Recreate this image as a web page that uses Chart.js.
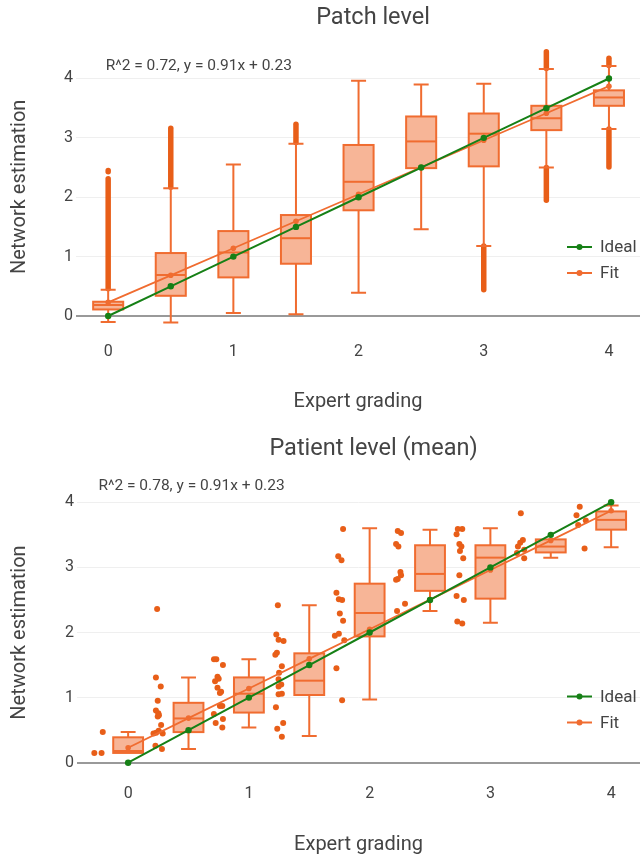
<!DOCTYPE html>
<html>
<head>
<meta charset="utf-8">
<script src="https://cdn.jsdelivr.net/npm/chart.js@4.4.0/dist/chart.umd.min.js"></script>
<style>
html, body { margin: 0; padding: 0; background: #fff; }
canvas { display: block; }
</style>
</head>
<body>
<canvas id="patchChart" width="644" height="430"></canvas>
<canvas id="patientChart" width="644" height="427"></canvas>
<script>
// Shared grading steps and reference lines
const grades = [0, 0.5, 1, 1.5, 2, 2.5, 3, 3.5, 4];
const idealValues = [0, 0.5, 1, 1.5, 2, 2.5, 3, 3.5, 4];
const fitValues = [0.23, 0.685, 1.14, 1.595, 2.05, 2.505, 2.96, 3.415, 3.87];
const axisTicks = [0, 1, 2, 3, 4];

// Patch level - box statistics
const patchLow  = [-0.10, -0.11, 0.05, 0.03, 0.39, 1.46, 1.18, 2.50, 3.15];
const patchQ1   = [0.11, 0.34, 0.65, 0.88, 1.78, 2.49, 2.52, 3.13, 3.54];
const patchMed  = [0.185, 0.69, 1.07, 1.31, 2.26, 2.94, 3.07, 3.33, 3.68];
const patchQ3   = [0.24, 1.06, 1.43, 1.70, 2.88, 3.36, 3.41, 3.54, 3.80];
const patchHigh = [0.44, 2.15, 2.55, 2.90, 3.96, 3.90, 3.91, 4.16, 4.21];

// Patch level - dense outlier runs (from / to)
const patchOutX  = [0, 0, 0.5, 1.5, 3, 3.5, 3.5, 4, 4];
const patchOutLo = [0.46, 2.43, 2.17, 2.92, 0.44, 1.95, 4.17, 2.51, 4.22];
const patchOutHi = [2.31, 2.45, 3.16, 3.23, 1.18, 2.50, 4.45, 3.15, 4.34];

// Patient level - box statistics
const patientLow  = [0.15, 0.21, 0.54, 0.41, 0.97, 2.33, 2.15, 3.15, 3.31];
const patientQ1   = [0.15, 0.47, 0.77, 1.04, 1.94, 2.64, 2.52, 3.23, 3.58];
const patientMed  = [0.18, 0.68, 1.06, 1.26, 2.30, 2.90, 3.15, 3.32, 3.73];
const patientQ3   = [0.39, 0.92, 1.31, 1.68, 2.75, 3.34, 3.34, 3.43, 3.86];
const patientHigh = [0.47, 1.31, 1.59, 2.42, 3.60, 3.58, 3.60, 3.43, 3.95];

// Patient level - individual patients (jittered left of each box)
const patientPtX = [
    -0.28, -0.22, -0.21,
    0.24, 0.23, 0.27, 0.245, 0.23, 0.25, 0.245, 0.255, 0.273, 0.253, 0.232, 0.21, 0.286, 0.226, 0.28,
    0.711, 0.73, 0.785, 0.74, 0.75, 0.72, 0.74, 0.77, 0.76, 0.76, 0.78, 0.71, 0.785, 0.725, 0.78,
    1.24, 1.227, 1.246, 1.287, 1.232, 1.219, 1.25, 1.273, 1.246, 1.268, 1.246, 1.273, 1.246, 1.224, 1.284, 1.235, 1.273,
    1.78, 1.74, 1.767, 1.725, 1.745, 1.772, 1.753, 1.78, 1.712, 1.745, 1.79, 1.725, 1.772,
    2.233, 2.26, 2.219, 2.238, 2.255, 2.26, 2.233, 2.219, 2.293, 2.227,
    2.73, 2.767, 2.72, 2.743, 2.76, 2.748, 2.775, 2.743, 2.72, 2.78, 2.726, 2.767,
    3.252, 3.269, 3.247, 3.228, 3.28, 3.22, 3.28,
    3.74, 3.713, 3.79, 3.727, 3.78
];
const patientPtY = [
    0.15, 0.15, 0.47,
    2.36, 1.31, 1.17, 0.95, 0.80, 0.76, 0.71, 0.73, 0.58, 0.49, 0.46, 0.45, 0.45, 0.26, 0.21,
    1.59, 1.59, 1.50, 1.32, 1.29, 1.25, 1.15, 1.09, 1.07, 0.87, 0.87, 0.75, 0.67, 0.61, 0.54,
    2.42, 1.97, 1.89, 1.87, 1.69, 1.66, 1.38, 1.48, 1.28, 1.20, 1.17, 1.06, 1.05, 0.85, 0.61, 0.52, 0.40,
    3.59, 3.17, 3.11, 2.61, 2.51, 2.50, 2.29, 2.18, 1.95, 1.98, 1.88, 1.45, 0.96,
    3.56, 3.53, 3.36, 3.32, 2.93, 2.88, 2.82, 2.81, 2.44, 2.33,
    3.59, 3.59, 3.51, 3.36, 3.32, 3.25, 3.14, 2.88, 2.56, 2.50, 2.17, 2.14,
    3.83, 3.42, 3.38, 3.32, 3.27, 3.22, 3.14,
    3.93, 3.80, 3.72, 3.65, 3.29
];

const ORANGE = 'rgb(240, 108, 48)';
const ORANGE_FILL = 'rgba(240, 108, 48, 0.5)';
const DOT = 'rgb(232, 94, 24)';
const GREEN = 'rgb(22, 128, 22)';
const TEXT = '#444';
const FONT = 'Roboto, "Open Sans", sans-serif';
Chart.defaults.font.family = FONT;
Chart.defaults.color = TEXT;

function toPoints(xs, ys) {
    return xs.map((x, i) => ({ x: x, y: ys[i] }));
}

// Draws boxes, whiskers and outlier runs through the chart scales
function makeBoxPlugin(box) {
    return {
        id: 'boxPlot',
        beforeDatasetsDraw(chart) {
            const { ctx, scales: { x, y } } = chart;
            ctx.save();
            if (box.outX) {
                ctx.strokeStyle = DOT;
                ctx.lineWidth = 5.5;
                ctx.lineCap = 'round';
                box.outX.forEach((g, i) => {
                    const px = x.getPixelForValue(g);
                    ctx.beginPath();
                    ctx.moveTo(px, y.getPixelForValue(box.outLo[i]));
                    ctx.lineTo(px, y.getPixelForValue(box.outHi[i]));
                    ctx.stroke();
                });
            }
            ctx.lineCap = 'butt';
            ctx.strokeStyle = ORANGE;
            ctx.lineWidth = 2;
            grades.forEach((g, i) => {
                const cx = x.getPixelForValue(g);
                const half = Math.abs(x.getPixelForValue(g + box.width / 2) - cx);
                const cap = half * 0.5;
                const yLow = y.getPixelForValue(box.low[i]);
                const yQ1 = y.getPixelForValue(box.q1[i]);
                const yMed = y.getPixelForValue(box.med[i]);
                const yQ3 = y.getPixelForValue(box.q3[i]);
                const yHigh = y.getPixelForValue(box.high[i]);
                ctx.beginPath();
                if (box.high[i] > box.q3[i]) {
                    ctx.moveTo(cx, yQ3); ctx.lineTo(cx, yHigh);
                    ctx.moveTo(cx - cap, yHigh); ctx.lineTo(cx + cap, yHigh);
                }
                if (box.low[i] < box.q1[i]) {
                    ctx.moveTo(cx, yQ1); ctx.lineTo(cx, yLow);
                    ctx.moveTo(cx - cap, yLow); ctx.lineTo(cx + cap, yLow);
                }
                ctx.stroke();
                ctx.fillStyle = '#fff';
                ctx.fillRect(cx - half, yQ3, half * 2, yQ1 - yQ3);
                ctx.fillStyle = ORANGE_FILL;
                ctx.fillRect(cx - half, yQ3, half * 2, yQ1 - yQ3);
                ctx.strokeRect(cx - half, yQ3, half * 2, yQ1 - yQ3);
                ctx.beginPath();
                ctx.moveTo(cx - half, yMed); ctx.lineTo(cx + half, yMed);
                ctx.stroke();
            });
            ctx.restore();
        },
        afterDraw(chart) {
            const { ctx, chartArea, scales: { x, y } } = chart;
            ctx.save();
            ctx.fillStyle = TEXT;
            ctx.textBaseline = 'middle';
            // title, centred a little right of the plot centre like the original
            ctx.textAlign = 'center';
            ctx.font = '23.5px ' + FONT;
            ctx.fillText(box.title, (chartArea.left + chartArea.right) / 2 + 15, box.titleY);
            // fit annotation
            ctx.textAlign = 'left';
            ctx.font = '15.5px ' + FONT;
            ctx.fillText(box.note, x.getPixelForValue(box.noteX), y.getPixelForValue(box.noteY));
            // legend inside the plot
            const items = chart.data.datasets.filter(ds => ds.showLine);
            items.forEach((ds, i) => {
                const lx = chartArea.right - 73;
                const ly = chartArea.top + 209.5 + i * 26;
                ctx.strokeStyle = ds.borderColor;
                ctx.lineWidth = 2;
                ctx.beginPath();
                ctx.moveTo(lx, ly); ctx.lineTo(lx + 25, ly);
                ctx.stroke();
                ctx.fillStyle = ds.borderColor;
                ctx.beginPath();
                ctx.arc(lx + 12.5, ly, 3, 0, Math.PI * 2);
                ctx.fill();
                ctx.fillStyle = TEXT;
                ctx.font = '17px ' + FONT;
                ctx.fillText(ds.label, lx + 33, ly + 1);
            });
            ctx.restore();
        }
    };
}

function lineSets() {
    return [{
        label: 'Ideal',
        data: toPoints(grades, idealValues),
        showLine: true,
        borderColor: GREEN,
        backgroundColor: GREEN,
        borderWidth: 2,
        pointRadius: 3.2,
        pointBorderWidth: 0
    }, {
        label: 'Fit',
        data: toPoints(grades, fitValues),
        showLine: true,
        borderColor: ORANGE,
        backgroundColor: ORANGE,
        borderWidth: 1.8,
        pointRadius: 2.8,
        pointBorderWidth: 0
    }];
}

function buildOptions(opt) {
    return {
        responsive: false,
        animation: false,
        events: [],
        layout: { padding: { top: opt.padTop } },
        plugins: {
            legend: { display: false },
            tooltip: { enabled: false },
            title: { display: false }
        },
        scales: {
            x: {
                type: 'linear',
                min: opt.xMin,
                max: opt.xMax,
                afterBuildTicks: s => { s.ticks = axisTicks.map(v => ({ value: v })); },
                afterFit: s => { s.height = opt.xHeight; },
                grid: { display: false, drawTicks: false },
                border: { display: false },
                ticks: { font: { size: 16 }, color: TEXT, padding: opt.xTickPad },
                title: {
                    display: true,
                    text: 'Expert grading',
                    color: TEXT,
                    font: { size: 20 },
                    padding: { top: 0, bottom: opt.xTitlePad }
                }
            },
            y: {
                min: opt.yMin,
                max: opt.yMax,
                afterBuildTicks: s => { s.ticks = axisTicks.map(v => ({ value: v })); },
                afterFit: s => { s.width = opt.yWidth; },
                grid: {
                    drawTicks: false,
                    color: c => (c.tick && c.tick.value === 0) ? '#999' : '#efefef',
                    lineWidth: c => (c.tick && c.tick.value === 0) ? 2 : 1
                },
                border: { display: false },
                ticks: { font: { size: 16 }, color: TEXT, padding: 3 },
                title: {
                    display: true,
                    text: 'Network estimation',
                    color: TEXT,
                    font: { size: 20 },
                    padding: { top: 8, bottom: 0 }
                }
            }
        }
    };
}

document.addEventListener('DOMContentLoaded', function() {
    new Chart(document.getElementById('patchChart'), {
        type: 'scatter',
        data: { datasets: lineSets() },
        options: buildOptions({
            padTop: 37.5,
            xMin: -0.257, xMax: 4.248, yMin: -0.337, yMax: 4.69,
            xHeight: 94, xTickPad: 6.4, xTitlePad: 16, yWidth: 76
        }),
        plugins: [makeBoxPlugin({
            width: 0.24, title: 'Patch level', titleY: 18,
            low: patchLow, q1: patchQ1, med: patchMed, q3: patchQ3, high: patchHigh,
            outX: patchOutX, outLo: patchOutLo, outHi: patchOutHi,
            note: 'R^2 = 0.72, y = 0.91x + 0.23', noteX: -0.02, noteY: 4.21
        })]
    });

    const patientSets = lineSets();
    patientSets.push({
        label: '',
        data: toPoints(patientPtX, patientPtY),
        showLine: false,
        backgroundColor: DOT,
        borderWidth: 0,
        pointRadius: 3
    });
    new Chart(document.getElementById('patientChart'), {
        type: 'scatter',
        data: { datasets: patientSets },
        options: buildOptions({
            padTop: 57,
            xMin: -0.4235, xMax: 4.239, yMin: -0.235, yMax: 4.235,
            xHeight: 79, xTickPad: 6.7, xTitlePad: 0, yWidth: 77
        }),
        plugins: [makeBoxPlugin({
            width: 0.247, title: 'Patient level (mean)', titleY: 19.5,
            low: patientLow, q1: patientQ1, med: patientMed, q3: patientQ3, high: patientHigh,
            note: 'R^2 = 0.78, y = 0.91x + 0.23', noteX: -0.246, noteY: 4.25
        })]
    });
});
</script>
</body>
</html>
